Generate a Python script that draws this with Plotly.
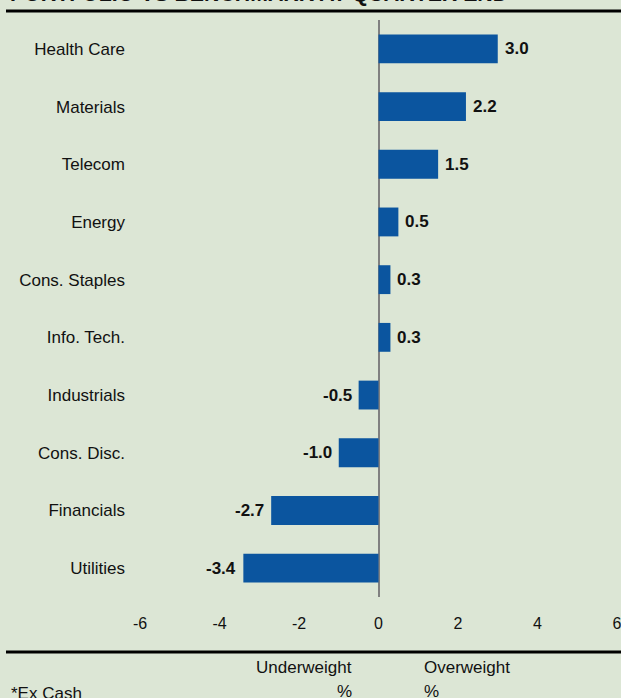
import plotly.graph_objects as go

# ---- data ----
sectors = ["Health Care", "Materials", "Telecom", "Energy", "Cons. Staples",
           "Info. Tech.", "Industrials", "Cons. Disc.", "Financials", "Utilities"]
active_weights = [3.0, 2.2, 1.5, 0.5, 0.3, 0.3, -0.5, -1.0, -2.7, -3.4]
x_ticks = [-6, -4, -2, 0, 2, 4, 6]
title_text = "PORTFOLIO VS BENCHMARK AT QUARTER END"

BG = "#dce6d5"
BAR = "#0b559f"
FONT = "Liberation Sans, Arial, sans-serif"

W, H = 621, 698
L, R, T, B = 140, 4, 20, 101
PW, PH = W - L - R, H - T - B


def px(x):
    return (x - L) / PW


def py(y):
    return (H - B - y) / PH


fig = go.Figure()
fig.add_trace(go.Bar(
    x=active_weights, y=sectors, orientation="h",
    marker=dict(color=BAR, line=dict(width=0)),
    width=0.5, hoverinfo="skip", cliponaxis=False,
))

annotations = []
for s, v in zip(sectors, active_weights):
    annotations.append(dict(
        x=v, y=s, xref="x", yref="y", text=f"{v:.1f}", showarrow=False,
        xanchor="left" if v >= 0 else "right", xshift=5 if v >= 0 else -5,
        font=dict(family=FONT, size=17, color="#111111", weight="bold"),
    ))

# title (cut off at top in the reference)
annotations.append(dict(x=px(8), y=py(8.5), xref="paper", yref="paper", text=title_text,
                        showarrow=False, xanchor="left", yanchor="bottom",
                        font=dict(family=FONT, size=21.3, color="#111111", weight="bold")))
annotations.append(dict(x=px(354), y=py(667), xref="paper", yref="paper", text="Underweight",
                        showarrow=False, xanchor="right", yanchor="middle",
                        font=dict(family=FONT, size=17, color="#111111")))
annotations.append(dict(x=px(354), y=py(691), xref="paper", yref="paper", text="%",
                        showarrow=False, xanchor="right", yanchor="middle",
                        font=dict(family=FONT, size=17, color="#111111")))
annotations.append(dict(x=px(422), y=py(667), xref="paper", yref="paper", text="Overweight",
                        showarrow=False, xanchor="left", yanchor="middle",
                        font=dict(family=FONT, size=17, color="#111111")))
annotations.append(dict(x=px(422), y=py(691), xref="paper", yref="paper", text="%",
                        showarrow=False, xanchor="left", yanchor="middle",
                        font=dict(family=FONT, size=17, color="#111111")))
annotations.append(dict(x=px(9), y=py(693), xref="paper", yref="paper", text="*Ex Cash",
                        showarrow=False, xanchor="left", yanchor="middle",
                        font=dict(family=FONT, size=17, color="#111111")))

shapes = [
    dict(type="line", xref="paper", yref="paper", x0=px(6), x1=px(625), y0=py(11), y1=py(11),
         line=dict(color="black", width=3)),
    dict(type="line", xref="paper", yref="paper", x0=px(6), x1=px(625), y0=py(652), y1=py(652),
         line=dict(color="black", width=3)),
]

fig.update_layout(
    width=W, height=H,
    margin=dict(l=L, r=R, t=T, b=B, autoexpand=False),
    paper_bgcolor=BG, plot_bgcolor=BG,
    showlegend=False,
    font=dict(family=FONT, size=17, color="#111111"),
    annotations=annotations,
    shapes=shapes,
    xaxis=dict(range=[-6, 6], tickvals=x_ticks, ticktext=[str(t) for t in x_ticks],
               showgrid=False, zeroline=True, zerolinecolor="#808080", zerolinewidth=2,
               showline=False, ticks="", ticklabelstandoff=15, ticklabeloverflow="allow",
               tickfont=dict(family=FONT, size=16, color="#111111"), fixedrange=True),
    yaxis=dict(categoryorder="array", categoryarray=sectors, autorange="reversed",
               showgrid=False, zeroline=False, showline=False, ticks="",
               ticklabelstandoff=14,
               tickfont=dict(family=FONT, size=17, color="#111111"), fixedrange=True),
)

fig.write_html(
    "out.html",
    config={"displayModeBar": False},
    post_script="document.body.style.margin='0';document.body.style.padding='0';"
                "document.body.style.background='" + BG + "';",
)
